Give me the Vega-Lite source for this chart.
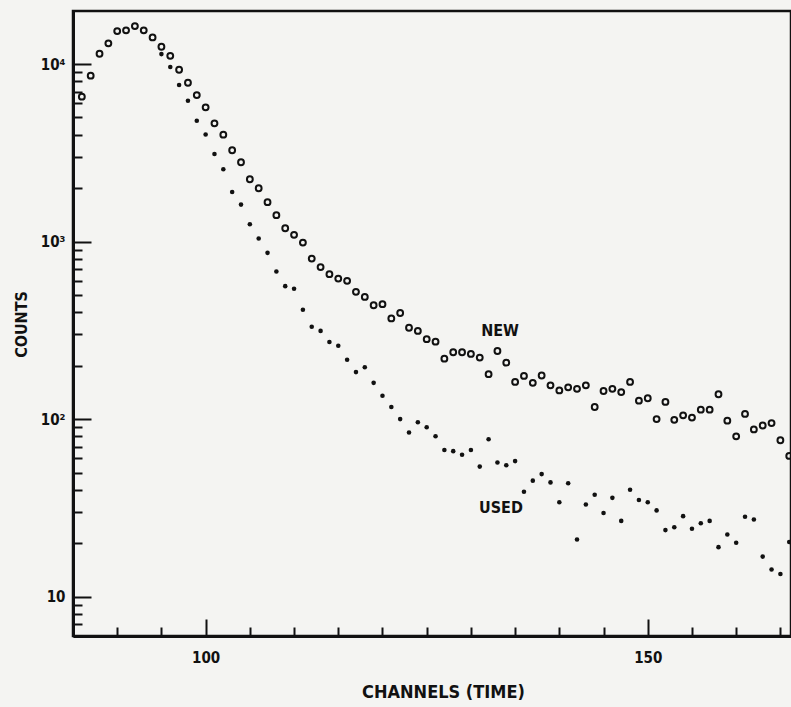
{
  "$schema": "https://vega.github.io/schema/vega-lite/v6.json",
  "width": 718,
  "height": 625,
  "autosize": {"type": "none"},
  "padding": {"left": 73, "top": 11, "right": 0, "bottom": 71},
  "background": "#f4f4f2",
  "config": {
    "view": {"stroke": "#111", "strokeWidth": 2.5},
    "font": "DejaVu Sans Condensed, Liberation Sans Narrow, sans-serif",
    "axis": {
      "domainColor": "#111", "domainWidth": 3, "tickColor": "#111", "tickWidth": 2,
      "labelColor": "#111", "titleColor": "#111", "labelFontWeight": "bold", "titleFontWeight": "bold",
      "grid": false, "labelOverlap": false, "labelFlush": false
    }
  },
  "datasets": {
    "pts": [
      {"series": "NEW", "ch": 86, "v": 6550}, {"series": "NEW", "ch": 87, "v": 8600}, {"series": "NEW", "ch": 88, "v": 11430},
      {"series": "NEW", "ch": 89, "v": 13080}, {"series": "NEW", "ch": 90, "v": 15340}, {"series": "NEW", "ch": 91, "v": 15480},
      {"series": "NEW", "ch": 92, "v": 16360}, {"series": "NEW", "ch": 93, "v": 15480}, {"series": "NEW", "ch": 94, "v": 14130},
      {"series": "NEW", "ch": 95, "v": 12510}, {"series": "NEW", "ch": 96, "v": 11130}, {"series": "NEW", "ch": 97, "v": 9290},
      {"series": "NEW", "ch": 98, "v": 7850}, {"series": "NEW", "ch": 99, "v": 6690}, {"series": "NEW", "ch": 100, "v": 5705},
      {"series": "NEW", "ch": 101, "v": 4637}, {"series": "NEW", "ch": 102, "v": 4000}, {"series": "NEW", "ch": 103, "v": 3268},
      {"series": "NEW", "ch": 104, "v": 2798}, {"series": "NEW", "ch": 105, "v": 2245}, {"series": "NEW", "ch": 106, "v": 1998},
      {"series": "NEW", "ch": 107, "v": 1667}, {"series": "NEW", "ch": 108, "v": 1408}, {"series": "NEW", "ch": 109, "v": 1189},
      {"series": "NEW", "ch": 110, "v": 1091}, {"series": "NEW", "ch": 111, "v": 987}, {"series": "NEW", "ch": 112, "v": 802},
      {"series": "NEW", "ch": 113, "v": 718}, {"series": "NEW", "ch": 114, "v": 655}, {"series": "NEW", "ch": 115, "v": 619},
      {"series": "NEW", "ch": 116, "v": 601}, {"series": "NEW", "ch": 117, "v": 521}, {"series": "NEW", "ch": 118, "v": 488},
      {"series": "NEW", "ch": 119, "v": 438}, {"series": "NEW", "ch": 120, "v": 444}, {"series": "NEW", "ch": 121, "v": 369},
      {"series": "NEW", "ch": 122, "v": 396}, {"series": "NEW", "ch": 123, "v": 327}, {"series": "NEW", "ch": 124, "v": 314},
      {"series": "NEW", "ch": 125, "v": 282}, {"series": "NEW", "ch": 126, "v": 273}, {"series": "NEW", "ch": 127, "v": 219},
      {"series": "NEW", "ch": 128, "v": 238}, {"series": "NEW", "ch": 129, "v": 238}, {"series": "NEW", "ch": 130, "v": 233},
      {"series": "NEW", "ch": 131, "v": 222}, {"series": "NEW", "ch": 132, "v": 179}, {"series": "NEW", "ch": 133, "v": 242},
      {"series": "NEW", "ch": 134, "v": 208}, {"series": "NEW", "ch": 135, "v": 162}, {"series": "NEW", "ch": 136, "v": 175},
      {"series": "NEW", "ch": 137, "v": 160}, {"series": "NEW", "ch": 138, "v": 176}, {"series": "NEW", "ch": 139, "v": 155},
      {"series": "NEW", "ch": 140, "v": 145}, {"series": "NEW", "ch": 141, "v": 151}, {"series": "NEW", "ch": 142, "v": 148},
      {"series": "NEW", "ch": 143, "v": 155}, {"series": "NEW", "ch": 144, "v": 117}, {"series": "NEW", "ch": 145, "v": 144},
      {"series": "NEW", "ch": 146, "v": 148}, {"series": "NEW", "ch": 147, "v": 142}, {"series": "NEW", "ch": 148, "v": 162},
      {"series": "NEW", "ch": 149, "v": 127}, {"series": "NEW", "ch": 150, "v": 131}, {"series": "NEW", "ch": 151, "v": 100},
      {"series": "NEW", "ch": 152, "v": 125}, {"series": "NEW", "ch": 153, "v": 99}, {"series": "NEW", "ch": 154, "v": 105},
      {"series": "NEW", "ch": 155, "v": 102}, {"series": "NEW", "ch": 156, "v": 113}, {"series": "NEW", "ch": 157, "v": 113},
      {"series": "NEW", "ch": 158, "v": 138}, {"series": "NEW", "ch": 159, "v": 98}, {"series": "NEW", "ch": 160, "v": 80},
      {"series": "NEW", "ch": 161, "v": 107}, {"series": "NEW", "ch": 162, "v": 87.5}, {"series": "NEW", "ch": 163, "v": 92},
      {"series": "NEW", "ch": 164, "v": 95}, {"series": "NEW", "ch": 165, "v": 76}, {"series": "NEW", "ch": 166, "v": 62},
      {"series": "USED", "ch": 95, "v": 11380}, {"series": "USED", "ch": 96, "v": 9620}, {"series": "USED", "ch": 97, "v": 7620},
      {"series": "USED", "ch": 98, "v": 6217}, {"series": "USED", "ch": 99, "v": 4797}, {"series": "USED", "ch": 100, "v": 4010},
      {"series": "USED", "ch": 101, "v": 3116}, {"series": "USED", "ch": 102, "v": 2555}, {"series": "USED", "ch": 103, "v": 1904},
      {"series": "USED", "ch": 104, "v": 1615}, {"series": "USED", "ch": 105, "v": 1253}, {"series": "USED", "ch": 106, "v": 1040},
      {"series": "USED", "ch": 107, "v": 864}, {"series": "USED", "ch": 108, "v": 678}, {"series": "USED", "ch": 109, "v": 561},
      {"series": "USED", "ch": 110, "v": 542}, {"series": "USED", "ch": 111, "v": 413}, {"series": "USED", "ch": 112, "v": 331},
      {"series": "USED", "ch": 113, "v": 314}, {"series": "USED", "ch": 114, "v": 272}, {"series": "USED", "ch": 115, "v": 259},
      {"series": "USED", "ch": 116, "v": 216}, {"series": "USED", "ch": 117, "v": 184}, {"series": "USED", "ch": 118, "v": 196},
      {"series": "USED", "ch": 119, "v": 160}, {"series": "USED", "ch": 120, "v": 135.5}, {"series": "USED", "ch": 121, "v": 117},
      {"series": "USED", "ch": 122, "v": 100}, {"series": "USED", "ch": 123, "v": 84}, {"series": "USED", "ch": 124, "v": 96},
      {"series": "USED", "ch": 125, "v": 90}, {"series": "USED", "ch": 126, "v": 80}, {"series": "USED", "ch": 127, "v": 67},
      {"series": "USED", "ch": 128, "v": 66}, {"series": "USED", "ch": 129, "v": 63}, {"series": "USED", "ch": 130, "v": 67},
      {"series": "USED", "ch": 131, "v": 54}, {"series": "USED", "ch": 132, "v": 77}, {"series": "USED", "ch": 133, "v": 57},
      {"series": "USED", "ch": 134, "v": 55}, {"series": "USED", "ch": 135, "v": 58}, {"series": "USED", "ch": 136, "v": 39},
      {"series": "USED", "ch": 137, "v": 45}, {"series": "USED", "ch": 138, "v": 49}, {"series": "USED", "ch": 139, "v": 44},
      {"series": "USED", "ch": 140, "v": 34}, {"series": "USED", "ch": 141, "v": 43.5}, {"series": "USED", "ch": 142, "v": 21},
      {"series": "USED", "ch": 143, "v": 33}, {"series": "USED", "ch": 144, "v": 37.5}, {"series": "USED", "ch": 145, "v": 29.6},
      {"series": "USED", "ch": 146, "v": 36}, {"series": "USED", "ch": 147, "v": 26.7}, {"series": "USED", "ch": 148, "v": 40},
      {"series": "USED", "ch": 149, "v": 35}, {"series": "USED", "ch": 150, "v": 34}, {"series": "USED", "ch": 151, "v": 30.6},
      {"series": "USED", "ch": 152, "v": 23.7}, {"series": "USED", "ch": 153, "v": 24.6}, {"series": "USED", "ch": 154, "v": 28.4},
      {"series": "USED", "ch": 155, "v": 24.1}, {"series": "USED", "ch": 156, "v": 25.9}, {"series": "USED", "ch": 157, "v": 26.7},
      {"series": "USED", "ch": 158, "v": 19}, {"series": "USED", "ch": 159, "v": 22.4}, {"series": "USED", "ch": 160, "v": 20.1},
      {"series": "USED", "ch": 161, "v": 28.2}, {"series": "USED", "ch": 162, "v": 27.2}, {"series": "USED", "ch": 163, "v": 16.8},
      {"series": "USED", "ch": 164, "v": 14.2}, {"series": "USED", "ch": 165, "v": 13.4}, {"series": "USED", "ch": 166, "v": 20.3}
    ],
    "labels": [
      {"text": "NEW", "ch": 133.3, "v": 314},
      {"text": "USED", "ch": 133.4, "v": 31.5}
    ]
  },
  "layer": [
    {
      "data": {"name": "pts"},
      "transform": [{"filter": "datum.series === 'NEW'"}],
      "mark": {"type": "point", "shape": "circle", "filled": false, "size": 34, "strokeWidth": 2, "color": "#111", "opacity": 1, "clip": true},
      "encoding": {
        "x": {
          "field": "ch", "type": "quantitative",
          "scale": {"domain": [85.0, 166.2], "nice": false, "zero": false},
          "axis": {
            "values": [90, 95, 100, 105, 110, 115, 120, 125, 130, 135, 140, 145, 150, 155, 160, 165],
            "labelExpr": "datum.value == 100 || datum.value == 150 ? datum.label : ''",
            "tickSize": {"condition": {"test": "datum.value == 100 || datum.value == 150", "value": -17}, "value": -9},
            "labelPadding": 31,
            "labelFontSize": 15,
            "title": "CHANNELS (TIME)",
            "titleFontSize": 18,
            "titleX": 370, "titleY": 56, "titleBaseline": "middle", "titleAlign": "center"
          }
        },
        "y": {
          "field": "v", "type": "quantitative",
          "scale": {"type": "log", "domain": [6, 19900], "nice": false},
          "axis": {
            "values": [6, 7, 8, 9, 10, 20, 30, 40, 50, 60, 70, 80, 90, 100, 200, 300, 400, 500, 600, 700, 800, 900, 1000, 2000, 3000, 4000, 5000, 6000, 7000, 8000, 9000, 10000],
            "labelExpr": "datum.value == 10 ? '10' : datum.value == 100 ? '10²' : datum.value == 1000 ? '10³' : datum.value == 10000 ? '10⁴' : ''",
            "tickSize": {"condition": {"test": "datum.value == 10 || datum.value == 100 || datum.value == 1000 || datum.value == 10000", "value": -18}, "value": -9},
            "labelPadding": 26,
            "labelFontSize": 15,
            "title": "COUNTS",
            "titleFontSize": 16,
            "titleX": -52, "titleY": 313, "titleBaseline": "middle", "titleAlign": "center"
          }
        }
      }
    },
    {
      "data": {"name": "pts"},
      "transform": [{"filter": "datum.series === 'USED'"}],
      "mark": {"type": "point", "shape": "circle", "filled": true, "size": 21, "color": "#111", "opacity": 1, "clip": true},
      "encoding": {
        "x": {"field": "ch", "type": "quantitative"},
        "y": {"field": "v", "type": "quantitative"}
      }
    },
    {
      "data": {"name": "labels"},
      "mark": {"type": "text", "fontSize": 16, "fontWeight": "bold", "color": "#111", "align": "center", "baseline": "middle"},
      "encoding": {
        "x": {"field": "ch", "type": "quantitative"},
        "y": {"field": "v", "type": "quantitative"},
        "text": {"field": "text"}
      }
    }
  ]
}
